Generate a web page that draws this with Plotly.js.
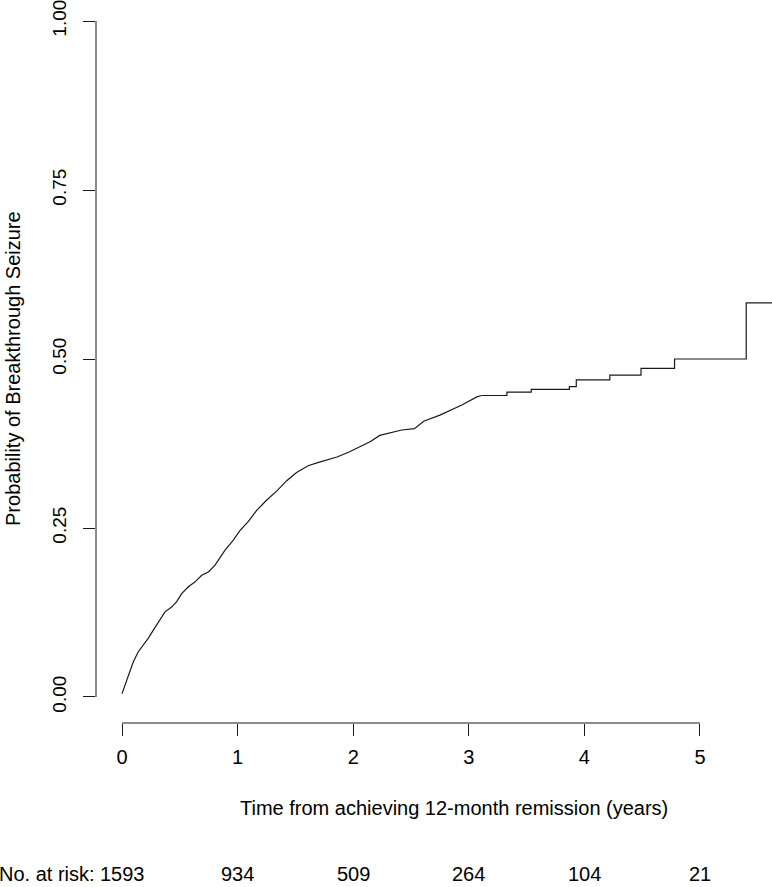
<!DOCTYPE html>
<html>
<head>
<meta charset="utf-8">
<script src="https://cdn.plot.ly/plotly-3.0.1.min.js"></script>
<style>
  html, body { margin: 0; padding: 0; background: #fff; }
  #chart { width: 772px; height: 887px; }
</style>
</head>
<body>
<div id="chart"></div>
<script>
// cumulative probability of breakthrough seizure
var curveTime = [0, 0.026, 0.061, 0.098, 0.141, 0.185, 0.228, 0.271, 0.315, 0.372, 0.43, 0.473, 0.516,
  0.574, 0.63, 0.69, 0.747, 0.805, 0.89, 0.963, 1.02, 1.09, 1.165, 1.25, 1.34, 1.425, 1.51, 1.61,
  1.70, 1.86, 1.96, 2.04, 2.15, 2.23, 2.33, 2.42, 2.53, 2.61, 2.75, 2.84, 2.94, 3.07, 3.11]
var curveProb = [0.005, 0.018, 0.035, 0.052, 0.067, 0.077, 0.087, 0.099, 0.111, 0.126, 0.133, 0.141, 0.153,
  0.163, 0.170, 0.180, 0.185, 0.195, 0.217, 0.232, 0.246, 0.259, 0.276, 0.291, 0.305, 0.320, 0.332, 0.342,
  0.347, 0.355, 0.362, 0.369, 0.378, 0.387, 0.391, 0.395, 0.397, 0.408, 0.417, 0.424, 0.432, 0.444, 0.446]

// the sparse tail is a plain step function
var stepTime = [3.11, 3.33, 3.54, 3.87, 3.93, 4.22, 4.49, 4.78, 5.40, 5.65]
var stepProb = [0.446, 0.451, 0.455, 0.459, 0.469, 0.476, 0.486, 0.500, 0.583, 0.583]

// number at risk table
var riskTimes = [0, 1, 2, 3, 4, 5]
var riskCounts = [1593, 934, 509, 264, 104, 21]

var xTicks = [0, 1, 2, 3, 4, 5]
var yTicks = [0, 0.25, 0.5, 0.75, 1]
var yTickText = ["0.00", "0.25", "0.50", "0.75", "1.00"]

var fontFam = "Arial, 'Liberation Sans', sans-serif"
var ink = "#1a1a1a"

var data = [
  {
    x: curveTime,
    y: curveProb,
    mode: "lines",
    line: { color: ink, width: 1.2, shape: "linear" },
    hoverinfo: "skip"
  },
  {
    x: stepTime,
    y: stepProb,
    mode: "lines",
    line: { color: ink, width: 1.2, shape: "hv" },
    hoverinfo: "skip"
  }
]

var riskY = -0.213

var annotations = riskTimes.map((t, i) => ({
  x: t, xref: "x",
  y: riskY, yref: "paper",
  text: String(riskCounts[i]),
  showarrow: false,
  xanchor: "center", yanchor: "middle",
  font: { family: fontFam, size: 20, color: "#000" }
}))

annotations.push({
  x: 0, xref: "paper", y: riskY, yref: "paper",
  text: "No. at risk:", showarrow: false,
  xanchor: "right", yanchor: "middle", xshift: 1,
  font: { family: fontFam, size: 20, color: "#000" }
})
annotations.push({
  x: 0.529, xref: "paper", y: -0.1192, yref: "paper",
  text: "Time from achieving 12-month remission (years)", showarrow: false,
  xanchor: "center", yanchor: "middle",
  font: { family: fontFam, size: 20, color: "#000" }
})
annotations.push({
  x: -0.1228, xref: "paper", y: 0.5, yref: "paper",
  text: "Probability of Breakthrough Seizure", showarrow: false,
  textangle: -90,
  xanchor: "center", yanchor: "middle",
  font: { family: fontFam, size: 20, color: "#000" }
})

var layout = {
  width: 772,
  height: 887,
  margin: { l: 96, r: 0, t: 13, b: 164, pad: 0 },
  paper_bgcolor: "#fff",
  plot_bgcolor: "#fff",
  showlegend: false,
  font: { family: fontFam, size: 20, color: "#000" },
  xaxis: {
    range: [-0.2249, 5.623],
    showgrid: false, zeroline: false, showline: false,
    tickmode: "array", tickvals: xTicks,
    ticks: "outside", ticklen: 12, tickwidth: 1, tickcolor: ink,
    ticklabelstandoff: 4,
    ticklabeloverflow: "allow",
    tickfont: { family: fontFam, size: 20, color: "#000" }
  },
  yaxis: {
    range: [-0.03847, 1.01183],
    showgrid: false, zeroline: false, showline: false,
    tickmode: "array", tickvals: yTicks, ticktext: yTickText,
    ticks: "outside", ticklen: 12, tickwidth: 1, tickcolor: ink,
    tickangle: -90,
    ticklabelstandoff: 9,
    ticklabeloverflow: "allow",
    tickfont: { family: fontFam, size: 19, color: "#000" }
  },
  shapes: [
    // R style axis lines, only across the tick range
    { type: "line", xref: "paper", x0: 0, x1: 0, yref: "y", y0: 0, y1: 1,
      line: { color: ink, width: 1 } },
    { type: "line", xref: "x", x0: 0, x1: 5, yref: "paper", y0: 0, y1: 0,
      line: { color: ink, width: 1 } }
  ],
  annotations: annotations
}

Plotly.newPlot("chart", data, layout, { staticPlot: true, displayModeBar: false })
</script>
</body>
</html>
